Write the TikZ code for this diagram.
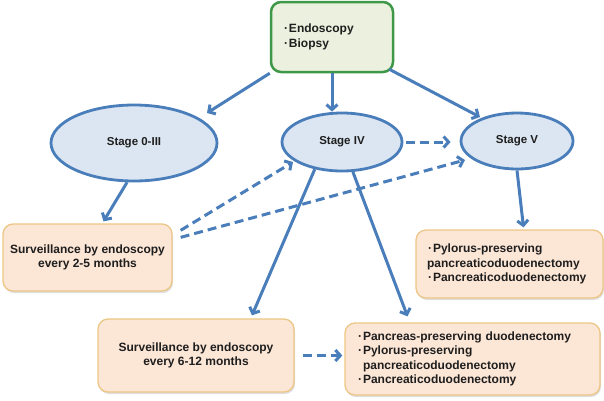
\documentclass[tikz,border=0pt]{standalone}
\usepackage{fontspec}
\setmainfont{Liberation Sans}
\usetikzlibrary{arrows.meta,calc,shadows,shapes.geometric}
\definecolor{lineblue}{RGB}{74,126,187}
\definecolor{ellfill}{RGB}{220,230,242}
\definecolor{grnline}{RGB}{62,152,72}
\definecolor{grnfill}{RGB}{235,241,222}
\definecolor{peach}{RGB}{252,230,214}
\definecolor{gold}{RGB}{236,198,132}
\definecolor{txt}{RGB}{30,30,30}
\newcommand\bul{\makebox[6pt][c]{·}}
\tikzset{
  stage/.style={ellipse, draw=lineblue, line width=2.8pt, fill=ellfill, inner sep=0pt,
    font=\bfseries\fontsize{11.5}{14}\selectfont, text=txt},
  obox/.style={rectangle, rounded corners=10pt, draw=gold, line width=1.3pt, fill=peach,
    font=\bfseries\fontsize{12}{14.5}\selectfont, text=txt, inner sep=0pt,
    drop shadow={shadow xshift=1pt, shadow yshift=-2pt, opacity=0.25}},
  gbox/.style={rectangle, rounded corners=10pt, draw=grnline, line width=2.5pt, fill=grnfill,
    font=\bfseries\fontsize{12}{14.5}\selectfont, text=txt, inner sep=0pt},
  arr/.style={draw=lineblue, line width=3pt, -{Straight Barb[length=5pt,width=11pt]}},
  darr/.style={arr, dash pattern=on 9pt off 5pt}
}
\begin{document}
\begin{tikzpicture}[x=1pt,y=-1pt]
\useasboundingbox (0,0) rectangle (604,400);
\node[gbox, minimum width=122pt, minimum height=70pt, text width=98pt, align=left] (top) at (332,37)
  {\bul Endoscopy\\\bul Biopsy};
\node[stage, minimum width=166pt, minimum height=76pt] (s03) at (134,143) {Stage 0-III};
\node[stage, minimum width=120pt, minimum height=58pt] (s4) at (342,142) {Stage IV};
\node[stage, minimum width=112pt, minimum height=56pt] (s5) at (517,141) {Stage V};
\node[obox, minimum width=169pt, minimum height=67pt, align=center] (surv1) at (87.5,257.5)
  {Surveillance by endoscopy\\every 2-5 months};
\node[obox, minimum width=187pt, minimum height=68pt, text width=165pt, align=left] (res5) at (509.5,264)
  {\bul Pylorus-preserving\\pancreaticoduodenectomy\\\bul Pancreaticoduodenectomy};
\node[obox, minimum width=196pt, minimum height=73pt, align=center] (surv2) at (196,355.5)
  {Surveillance by endoscopy\\every 6-12 months};
\node[obox, minimum width=255pt, minimum height=72pt, text width=231pt, align=left] (res4) at (472.5,359)
  {\bul Pancreas-preserving duodenectomy\\\bul Pylorus-preserving\\\hspace*{6pt}pancreaticoduodenectomy\\\bul Pancreaticoduodenectomy};
% solid arrows
\draw[arr] (top.south west) -- ($(s03.center)+(73,-30)$);
\draw[arr] (top.south) -- (top.south |- s4.north);
\draw[arr] ($(top.south east)+(-5,-4)$) -- ($(s5.center)+(-37,-24)$);
\draw[arr] (s03.-100) -- ($(surv1.north)+(16,-2)$);
\draw[arr] (s5.south) -- ($(res5.north)+(14,-2)$);
\draw[arr] (s4.-135) -- ($(surv2.north)+(56,-3)$);
\draw[arr] (s4.-70) -- ($(res4.north)+(-65,-6)$);
% dashed arrows
\draw[darr] ($(surv1.north east)+(8,7)$) -- ($(s4.center)+(-49,20)$);
\draw[darr] ($(surv1.north east)+(8,14)$) -- ($(s5.center)+(-52,19)$);
\draw[darr, shorten <=3pt, shorten >=9pt] (s4.east) -- (s4.east -| s5.west);
\draw[darr, shorten <=8pt, shorten >=2pt] (surv2.east) -- (surv2.east -| res4.west);
\end{tikzpicture}
\end{document}
